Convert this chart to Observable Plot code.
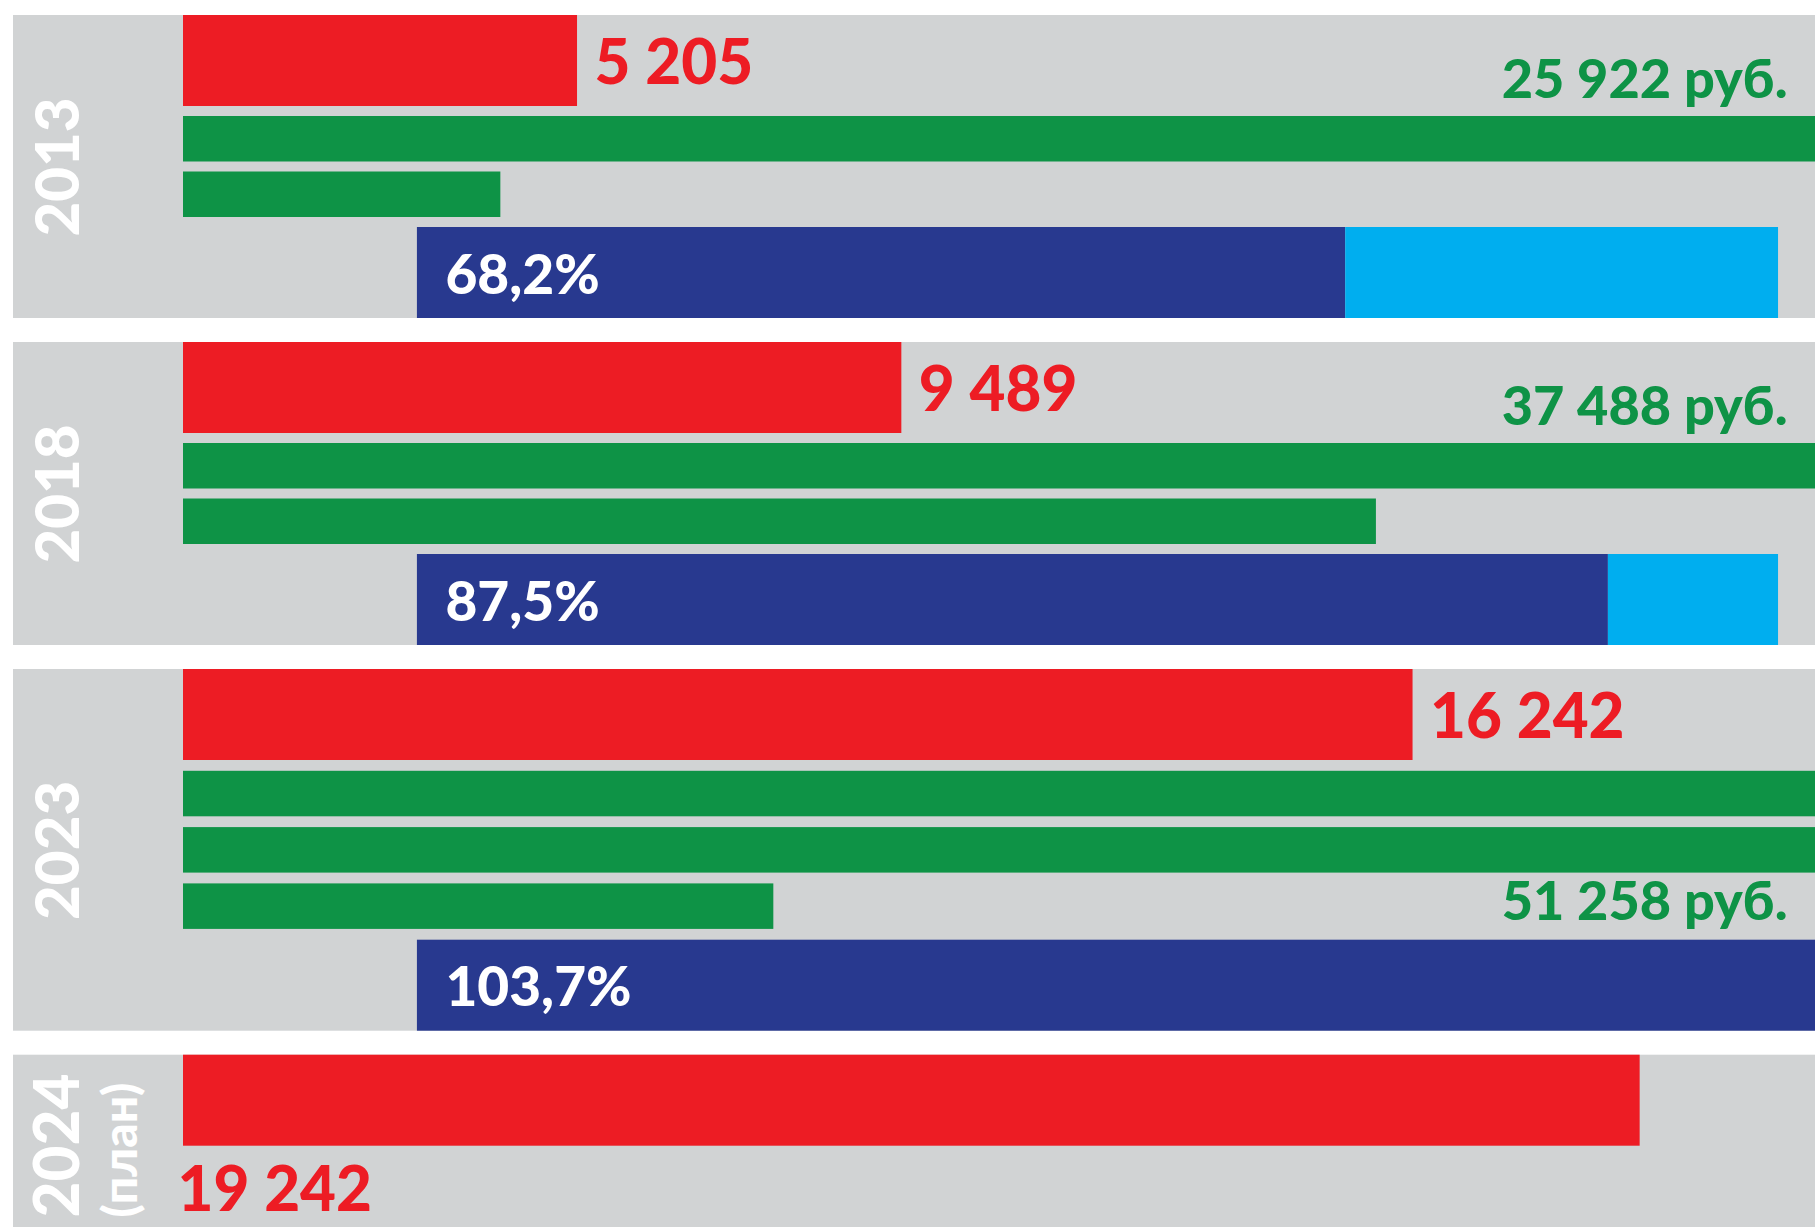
<!DOCTYPE html>
<html><head><meta charset="utf-8">
<script src="https://cdn.jsdelivr.net/npm/d3@7"></script>
<script src="https://cdn.jsdelivr.net/npm/@observablehq/plot@0.6"></script>
<style>
html,body{margin:0;padding:0;background:#fff;overflow:hidden}
#chart svg{display:block;overflow:hidden}
</style></head><body><div id="chart"></div>
<script>
// ---- data ----
const years = ["2013", "2018", "2023", "2024"];
const yearNotes = ["", "", "", "(план)"];
const redValues = [5205, 9489, 16242, 19242];
const redLabels = ["5 205", "9 489", "16 242", "19 242"];
const salaryValues = [25922, 37488, 51258, null];
const salaryLabels = ["25 922 руб.", "37 488 руб.", "51 258 руб.", null];
const percentValues = [68.2, 87.5, 103.7, null];
const percentLabels = ["68,2%", "87,5%", "103,7%", null];

// ---- style / layout ----
const W = 1815, H = 1227;
const C = {panel: "#d1d3d4", red: "#ed1c24", green: "#0e9346", blue: "#28398f", light: "#00aeef", white: "#ffffff"};
const font = "Lato, 'Noto Sans', sans-serif";
const rowWrap = 21730;               // value units shown per green row before wrapping
const blueStart = 3090, blueFull = 17980; // percent bar: start and 100% span in x units
const firstTop = 15, panelGap = 24, bigH = 91, smallH = 45.5;

const panels = [], bars = [], redText = [], redTextBelow = [], greenText = [], blueText = [], yearText = [], noteText = [];
let cursor = firstTop;
years.forEach((yr, i) => {
  const t = cursor;
  let y = t;
  const rY1 = y, rY2 = y + bigH;
  bars.push({x1: 0, x2: redValues[i], y1: rY1, y2: rY2, fill: C.red});
  let bottom;
  if (salaryValues[i] != null) {
    const nRows = Math.ceil(salaryValues[i] / rowWrap);
    const gap = nRows > 2 ? 10.8 : 10;
    redText.push({x: redValues[i], y: rY1 + 68, text: redLabels[i]});
    y = rY2 + gap;
    let rem = salaryValues[i], lastBottom = rY2;
    while (rem > 0) {
      const v = Math.min(rem, rowWrap);
      bars.push({x1: 0, x2: v, y1: y, y2: y + smallH, fill: C.green});
      lastBottom = y + smallH;
      y += smallH + gap;
      rem -= v;
    }
    // salary label: in the red row if it does not collide with the red label, else in the last green row
    const inLast = redValues[i] > 12000;
    greenText.push({y: (inLast ? lastBottom : rY2) - 9, text: salaryLabels[i]});
    const p = percentValues[i];
    const xp = blueStart + blueFull * p / 100;
    bars.push({x1: blueStart, x2: xp, y1: y, y2: y + bigH, fill: C.blue});
    if (p < 100) bars.push({x1: xp, x2: blueStart + blueFull, y1: y, y2: y + bigH, fill: C.light});
    blueText.push({x: blueStart, y: y + 66, text: percentLabels[i]});
    bottom = y + bigH;
    yearText.push({y: (t + bottom) / 2, text: yr});
  } else {
    redTextBelow.push({x: 0, y: rY2 + 65, text: redLabels[i]});
    bottom = H;
    yearText.push({y: H - 10, text: yr, start: true});
    noteText.push({y: H - 10, text: yearNotes[i]});
  }
  panels.push({y1: t, y2: bottom});
  cursor = bottom + panelGap;
});

const chart = Plot.plot({
  width: W, height: H,
  marginTop: 0, marginBottom: 0, marginRight: 0, marginLeft: 13,
  x: {domain: [0, rowWrap], range: [183, 183 + 1645], axis: null},
  y: {domain: [0, H], range: [0, H], axis: null},
  color: {type: "identity"},
  style: {background: "#ffffff", fontFamily: font, overflow: "hidden"},
  marks: [
    Plot.rect(panels, {y1: "y1", y2: "y2", fill: C.panel}),
    Plot.rect(bars, {x1: "x1", x2: "x2", y1: "y1", y2: "y2", fill: "fill"}),
    Plot.text(redText, {x: "x", y: "y", text: "text", dx: 17, textAnchor: "start", lineAnchor: "bottom",
      fill: C.red, fontSize: 62, fontWeight: 900, fontFamily: font}),
    Plot.text(redTextBelow, {x: "x", y: "y", text: "text", dx: -6, textAnchor: "start", lineAnchor: "bottom",
      fill: C.red, fontSize: 62, fontWeight: 900, fontFamily: font}),
    Plot.text(greenText, {y: "y", text: "text", frameAnchor: "right", dx: -28, textAnchor: "end", lineAnchor: "bottom",
      fill: C.green, fontSize: 54, fontWeight: 900, fontFamily: font}),
    Plot.text(blueText, {x: "x", y: "y", text: "text", dx: 28, textAnchor: "start", lineAnchor: "bottom",
      fill: C.white, fontSize: 55, fontWeight: 900, fontFamily: font}),
    Plot.text(yearText.filter(d => !d.start), {y: "y", text: "text", frameAnchor: "left", dx: 46, rotate: -90,
      textAnchor: "middle", lineAnchor: "middle", fill: C.white, fontSize: 60, fontWeight: 900, fontFamily: font}),
    Plot.text(yearText.filter(d => d.start), {y: "y", text: "text", frameAnchor: "left", dx: 46, rotate: -90,
      textAnchor: "start", lineAnchor: "middle", fill: C.white, fontSize: 62, fontWeight: 900, fontFamily: font}),
    Plot.text(noteText, {y: "y", text: "text", frameAnchor: "left", dx: 108, rotate: -90,
      textAnchor: "start", lineAnchor: "middle", fill: C.white, fontSize: 48, fontWeight: 900, fontFamily: font})
  ]
});
document.getElementById("chart").appendChild(chart);
</script>
</body></html>
